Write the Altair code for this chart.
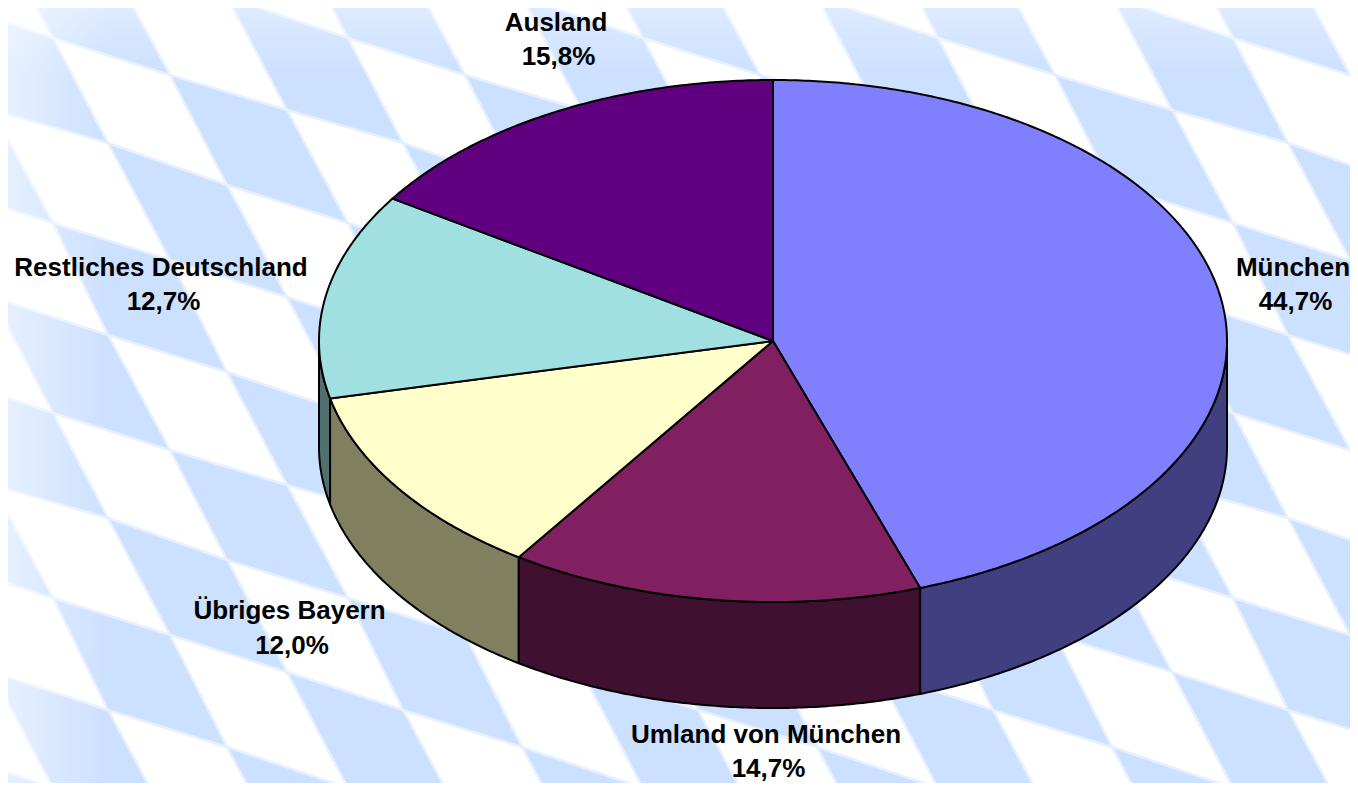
import math
import altair as alt

# ---- chart values
categories = ["München", "Umland von München", "Übriges Bayern", "Restliches Deutschland", "Ausland"]
shares = [44.7, 14.7, 12.0, 12.7, 15.8]
share_labels = ["44,7%", "14,7%", "12,0%", "12,7%", "15,8%"]
top_colors = ["#8080FF", "#802060", "#FFFFCC", "#A0E0E0", "#600080"]
side_colors = ["#404080", "#401030", "#808060", "#507070", "#300040"]

# ---- layout (page pixels)
CX, CY, RX, RY, DEPTH = 773.0, 341.0, 454.0, 261.0, 106.0
label_x = [1293, 766, 289.5, 161, 556]
label_y = [267.5, 734.5, 611, 267.5, 22.5]
LINE_GAP = 34.5
SHARE_DX = 2.5
FONT_SIZE = 26

# ---- background lozenge tile (period 295 x 375)
col_x = [53, 108, 170, 227, 287]
col_y_a = [38, 143, 75, 185, 110]
col_y_b = [223, 335, 260, 372, 297]
TILE_W, TILE_H = 295.0, 375.0
BLUE = "#CCE0FF"
BLUE_EDGE = "#E6F0FF"


def crossing(i, j):
    k = 2 * i + j
    m = k % 5
    x = col_x[m] + TILE_W * (k - m) / 5
    nominal = 38 + 37.4 * i + 112.2 * j
    best = None
    for base in (col_y_a[m], col_y_b[m]):
        n = round((nominal - base) / TILE_H)
        y = base + n * TILE_H
        if best is None or abs(y - nominal) < abs(best - nominal):
            best = y
    return [x, best]


def feature(ring, **props):
    return {"type": "Feature", "properties": props,
            "geometry": {"type": "Polygon", "coordinates": [ring]}}


def pt(deg, dy=0.0):
    t = math.radians(deg)
    return [CX + RX * math.sin(t), CY - RY * math.cos(t) + dy]


def arc(a, b):
    n = max(2, int(abs(b - a) * 2))
    return [pt(a + (b - a) * s / n) for s in range(n + 1)]


# background diamonds
diamonds = []
for i in range(-14, 16):
    for j in range(-6, 12):
        if (i + j) % 2 == 1:
            ring = [crossing(i, j), crossing(i + 1, j), crossing(i + 1, j + 1), crossing(i, j + 1)]
            ring.append(ring[0])
            if max(p[0] for p in ring) > -20 and min(p[0] for p in ring) < 1400 \
                    and max(p[1] for p in ring) > -20 and min(p[1] for p in ring) < 820:
                diamonds.append(feature(ring, color=BLUE))

# slices: the printed shares add up to 99.9, the circle is closed
total_share = sum(shares)
edges = []
running = 0.0
for s in shares:
    edges.append((running / total_share * 360.0, (running + s) / total_share * 360.0))
    running += s

walls = []
for idx in [3, 2, 1, 0]:
    a, b = edges[idx]
    a2, b2 = max(a, 90.0), min(b, 270.0)
    top = arc(a2, b2)
    bottom = [[p[0], p[1] + DEPTH] for p in reversed(top)]
    ring = top + bottom + [top[0]]
    walls.append(feature(ring, color=side_colors[idx]))

tops = []
for idx, (a, b) in enumerate(edges):
    ring = [[CX, CY]] + arc(a, b) + [[CX, CY]]
    tops.append(feature(ring, color=top_colors[idx], name=categories[idx]))

labels = []
for name, share, x, y in zip(categories, share_labels, label_x, label_y):
    labels.append({"text": name, "x": x, "y": y})
    labels.append({"text": share, "x": x + SHARE_DX, "y": y + LINE_GAP})

fade_left = [feature([[0, 0], [110, 0], [110, 800], [0, 800], [0, 0]])]
fade_top = [feature([[0, 0], [1358, 0], [1358, 75], [0, 75], [0, 0]])]

bg = alt.Chart(alt.Data(values=diamonds)).mark_geoshape(
    fill=BLUE, stroke=BLUE_EDGE, strokeWidth=2.5, strokeJoin="round")

left_overlay = alt.Chart(alt.Data(values=fade_left)).mark_geoshape(
    strokeWidth=0,
    fill=alt.Gradient(gradient="linear", x1=0, y1=0, x2=1, y2=0,
                      stops=[alt.GradientStop(offset=0, color="rgba(255,255,255,0.55)"),
                             alt.GradientStop(offset=1, color="rgba(255,255,255,0)")]))
top_overlay = alt.Chart(alt.Data(values=fade_top)).mark_geoshape(
    strokeWidth=0,
    fill=alt.Gradient(gradient="linear", x1=0, y1=0, x2=0, y2=1,
                      stops=[alt.GradientStop(offset=0, color="rgba(255,255,255,0.4)"),
                             alt.GradientStop(offset=1, color="rgba(255,255,255,0)")]))

wall_layer = alt.Chart(alt.Data(values=walls)).mark_geoshape(
    stroke="#000000", strokeWidth=2, strokeJoin="round"
).encode(fill=alt.Fill("properties.color:N", scale=None, legend=None))

top_layer = alt.Chart(alt.Data(values=tops)).mark_geoshape(
    stroke="#000000", strokeWidth=2, strokeJoin="round"
).encode(fill=alt.Fill("properties.color:N", scale=None, legend=None))

text_layer = alt.Chart(alt.Data(values=labels)).mark_text(
    font="Liberation Sans", fontWeight="bold", fontSize=FONT_SIZE, color="#000000",
    align="center", baseline="middle"
).encode(longitude="x:Q", latitude="y:Q", text="text:N")

chart = alt.layer(
    bg, left_overlay, top_overlay, wall_layer, top_layer, text_layer
).project(type="identity", scale=1, translate=[-8, -8]).properties(
    width=1342, height=775, padding=0, autosize=alt.AutoSizeParams(type="none")
).configure_view(stroke=None)

chart.save("out.html", embed_options={"renderer": "svg", "actions": False})
